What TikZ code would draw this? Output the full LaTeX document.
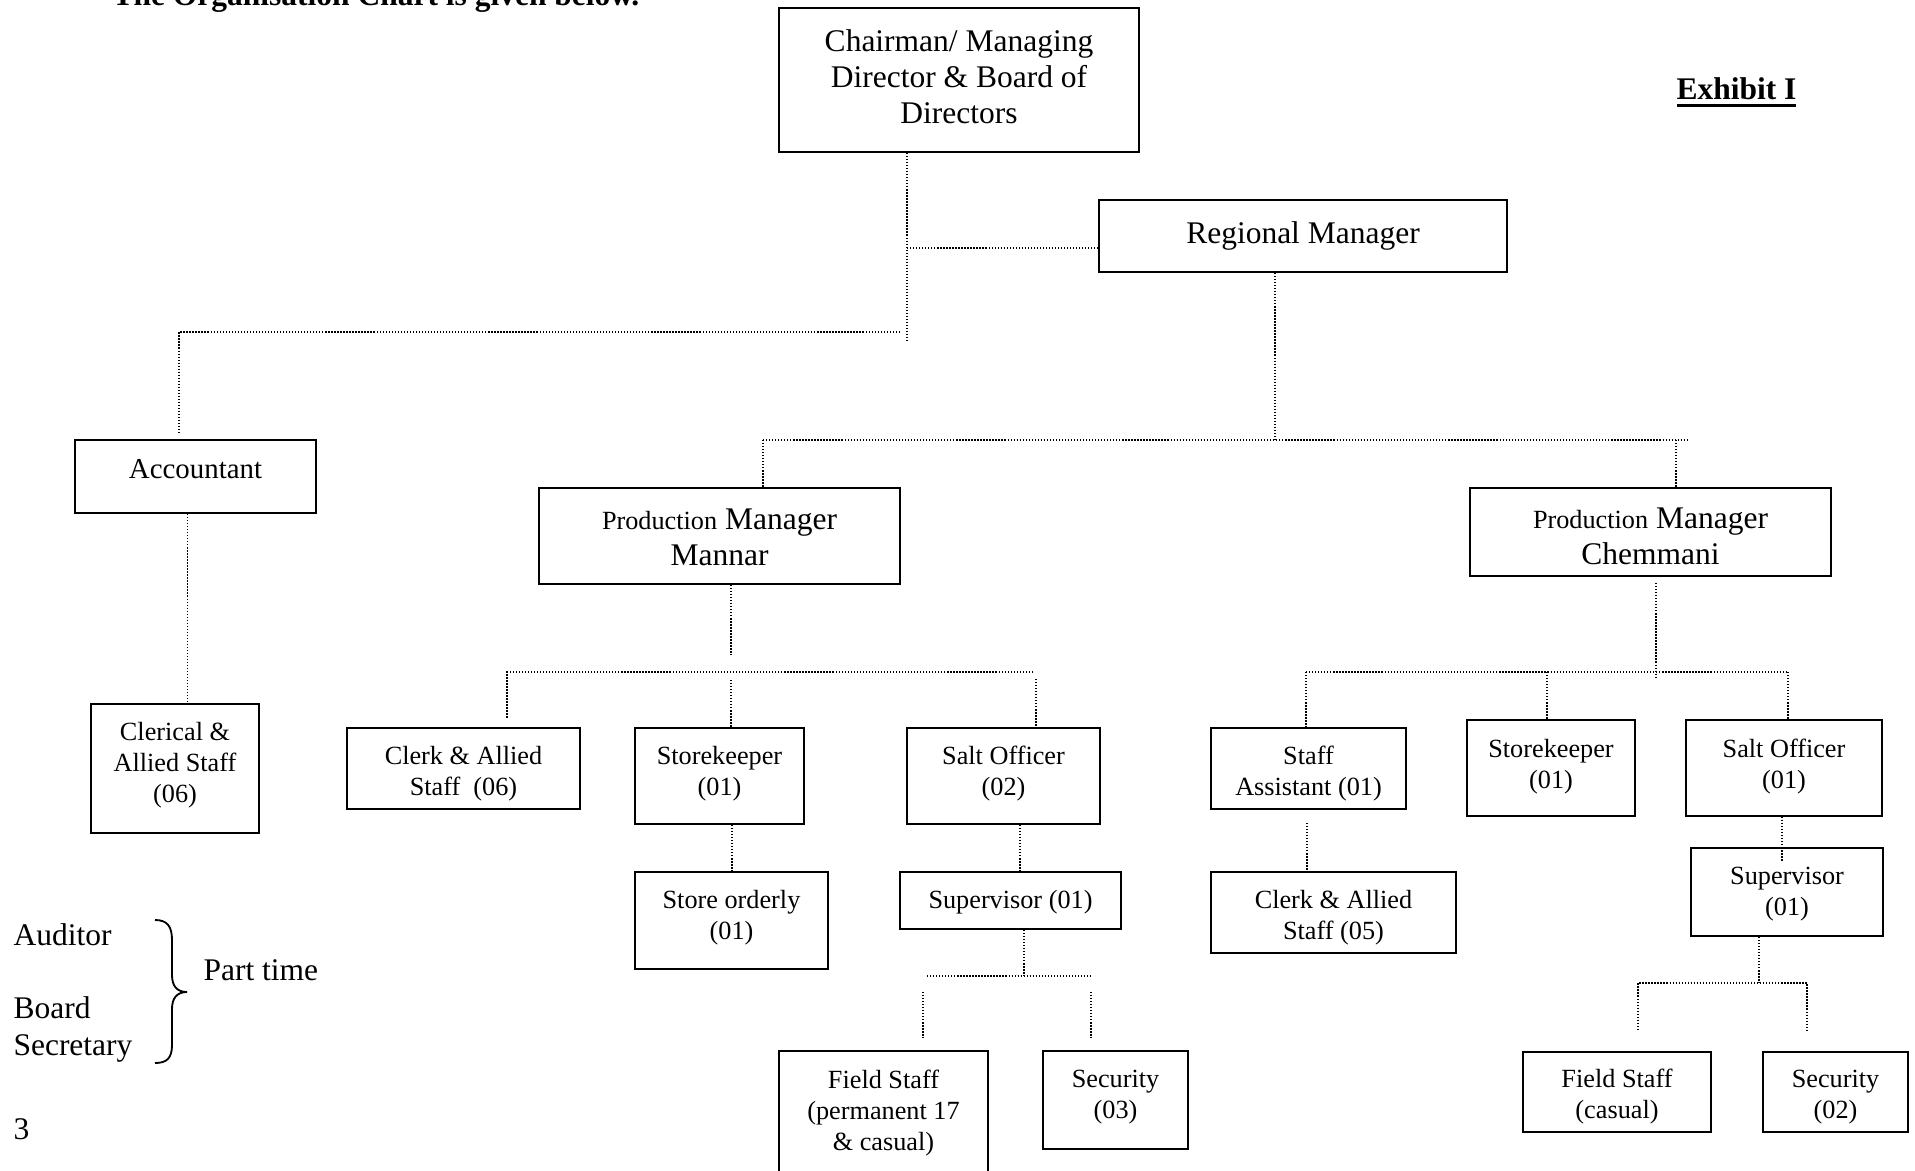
\documentclass[tikz,border=0pt]{standalone}
\usepackage{fontspec}
\setmainfont{Liberation Serif}
\newcommand\exul[1]{\setbox0=\hbox{#1}\rlap{\rule[-2.85pt]{\wd0}{1.15pt}}\box0}
\newcommand\shiftt[2]{\raisebox{#1}[\height][\depth]{#2}}
\tikzset{
  box/.style={draw, line width=0.75pt, inner sep=0pt, align=center, font=\fontsize{10}{11.7}\selectfont},
  big/.style={font=\fontsize{12}{13.8}\selectfont},
  sz/.style 2 args={minimum width=#1*0.381pt, minimum height=#2*0.381pt},
  conn/.style={line width=0.6pt, dash pattern=on 0.5pt off 0.65pt},
  lbl/.style={anchor=base west, inner sep=0pt, font=\fontsize{12}{13.8}\selectfont},
}
\begin{document}
\begin{tikzpicture}[x=0.381pt, y=-0.381pt]
\useasboundingbox (0,0) rectangle (1915,1170);
\clip (0,0) rectangle (1915,1170);
\fill[white] (0,0) rectangle (1915,1170);

% header texts
\node[lbl, font=\bfseries\fontsize{12}{13.8}\selectfont] (title) at (112,6) {The Organisation Chart is given below.};
\node[lbl, font=\bfseries\fontsize{12}{13.8}\selectfont] (exh) at (1676,99.5) {\exul{Exhibit I}};

% boxes
\node[box, big, sz={360}{144}] (chair) at (959,80) {\shiftt{1.33pt}{Chairman/ Managing}\\\shiftt{1.33pt}{Director \& Board of}\\\shiftt{1.33pt}{Directors}};
\node[box, big, sz={408}{72}] (rm) at (1303,236) {Regional Manager};
\node[box, sz={241}{73}, font=\fontsize{11}{13}\selectfont, text depth=6.1pt] (acc) at (195.5,476.5) {Accountant};
\node[box, big, sz={361}{96}] (pmm) at (719.5,536) {\shiftt{-0.57pt}{{\fontsize{10}{11.7}\selectfont Production} Manager}\\\shiftt{-0.57pt}{Mannar}};
\node[box, big, sz={361}{88}] (pmc) at (1650.5,532) {\shiftt{-1.71pt}{{\fontsize{10}{11.7}\selectfont Production} Manager}\\\shiftt{-1.71pt}{Chemmani}};
\node[box, sz={168}{129}] (cler) at (175,768.5) {\shiftt{1.33pt}{Clerical \&}\\\shiftt{1.33pt}{Allied Staff}\\\shiftt{1.33pt}{(06)}};
\node[box, sz={233}{81}] (clk6) at (463.5,768.5) {\shiftt{-1.9pt}{Clerk \& Allied}\\\shiftt{-1.9pt}{Staff\ \ (06)}};
\node[box, sz={169}{96}] (skm) at (719.5,776) {\shiftt{0.95pt}{Storekeeper}\\\shiftt{0.95pt}{(01)}};
\node[box, sz={193}{96}] (som) at (1003.5,776) {\shiftt{0.95pt}{Salt Officer}\\\shiftt{0.95pt}{(02)}};
\node[box, sz={195}{81}] (sa) at (1308.5,768.5) {\shiftt{-1.9pt}{Staff}\\\shiftt{-1.9pt}{Assistant (01)}};
\node[box, sz={168}{96}] (skc) at (1551,768) {\shiftt{0.57pt}{Storekeeper}\\\shiftt{0.57pt}{(01)}};
\node[box, sz={196}{96}] (soc) at (1784,768) {\shiftt{0.57pt}{Salt Officer}\\\shiftt{0.57pt}{(01)}};
\node[box, sz={193}{97}] (sto) at (731.5,920.5) {\shiftt{0.95pt}{Store orderly}\\\shiftt{0.95pt}{(01)}};
\node[box, sz={221}{57}] (supm) at (1010.5,900.5) {\shiftt{-0.76pt}{Supervisor (01)}};
\node[box, sz={245}{81}] (clk5) at (1333.5,912.5) {\shiftt{-1.9pt}{Clerk \& Allied}\\\shiftt{-1.9pt}{Staff (05)}};
\node[box, sz={192}{88}] (supc) at (1787,892) {\shiftt{-0.76pt}{Supervisor}\\\shiftt{-0.76pt}{(01)}};
\node[box, sz={209}{124}] (fsm) at (883.5,1113) {Field Staff\\(permanent 17\\\& casual)};
\node[box, sz={145}{98}] (secm) at (1115.5,1100) {\shiftt{1.14pt}{Security}\\\shiftt{1.14pt}{(03)}};
\node[box, sz={188}{80}] (fsc) at (1617,1092) {\shiftt{-1.71pt}{Field Staff}\\\shiftt{-1.71pt}{(casual)}};
\node[box, sz={145}{80}] (secc) at (1835.5,1092) {\shiftt{-1.9pt}{Security}\\\shiftt{-1.9pt}{(02)}};

% chairman connectors
\coordinate (chT) at (907,342);
\draw[conn] (chair.south -| chT) -- (chT);
\coordinate (chR) at (907,248);
\draw[conn] (chR) -- (rm.west |- chR);
\coordinate (accH) at (900,332);
\coordinate (accV) at (179,433);
\draw[conn] (accH) -| (accV);
\coordinate (accX) at (187.5,0);
\draw[conn] (acc.south -| accX) -- (cler.north -| accX);

% regional manager connectors
\coordinate (rmJ) at (1275,440);
\draw[conn] (rm.south -| rmJ) -- (rmJ);
\coordinate (pmL) at (763,440);
\coordinate (pmR) at (1688,440);
\draw[conn] (pmL) -- (pmR);
\draw[conn] (pmL) -- (pmm.north -| pmL);
\coordinate (pmcJ) at (1676,440);
\draw[conn] (pmcJ) -- (pmc.north -| pmcJ);

% Mannar
\coordinate (mA) at (731,655);
\draw[conn] (pmm.south -| mA) -- (mA);
\coordinate (mL) at (507,672);
\coordinate (mR) at (1033,672);
\coordinate (mLb) at (507,718);
\draw[conn] (mR) -- (mL) -- (mLb);
\coordinate (mM) at (731,680);
\draw[conn] (mM) -- (skm.north -| mM);
\coordinate (mS) at (1036,679);
\draw[conn] (mS) -- (som.north -| mS);
\coordinate (skX) at (732,0);
\draw[conn] (skm.south -| skX) -- (sto.north -| skX);
\coordinate (soX) at (1020,0);
\draw[conn] (som.south -| soX) -- (supm.north -| soX);
\coordinate (suJ) at (1024,976);
\draw[conn] (supm.south -| suJ) -- (suJ);
\coordinate (suL) at (927,976);
\coordinate (suR) at (1093,976);
\draw[conn] (suL) -- (suR);
\coordinate (fmT) at (923,992);
\coordinate (fmB) at (923,1038);
\draw[conn] (fmT) -- (fmB);
\coordinate (smT) at (1091,992);
\coordinate (smB) at (1091,1038);
\draw[conn] (smT) -- (smB);

% Chemmani
\coordinate (cAt) at (1656,583);
\coordinate (cA) at (1656,679);
\draw[conn] (cAt) -- (cA);
\coordinate (cL) at (1306,672);
\coordinate (cR) at (1788,672);
\draw[conn] (cL) -- (cR);
\draw[conn] (cL) -- (sa.north -| cL);
\coordinate (cM) at (1547,672);
\draw[conn] (cM) -- (skc.north -| cM);
\draw[conn] (cR) -- (soc.north -| cR);
\coordinate (saT) at (1307,823);
\draw[conn] (saT) -- (clk5.north -| saT);
\coordinate (soB) at (1782,862);
\draw[conn] (soc.south -| soB) -- (soB);
\coordinate (scJ) at (1759,983);
\draw[conn] (supc.south -| scJ) -- (scJ);
\coordinate (scL) at (1638,1030);
\coordinate (scR) at (1807,1030);
\draw[conn] (scL) |- (scJ) -| (scR);

% part-time note
\node[lbl] (aud) at (13,945) {Auditor};
\node[lbl] (brd) at (13,1018) {Board};
\node[lbl] (secy) at (13,1055) {Secretary};
\node[lbl] (pt) at (203,980) {Part time};
\node[lbl] (pg) at (13,1139) {3};
\draw[line width=0.7pt] (155,920) .. controls (167,920) and (172,926) .. (172,940) -- (172,975)
  .. controls (172,986) and (177,992) .. (187,992)
  .. controls (177,992) and (172,998) .. (172,1009) -- (172,1045)
  .. controls (172,1058) and (167,1063) .. (155,1063);
\end{tikzpicture}
\end{document}
